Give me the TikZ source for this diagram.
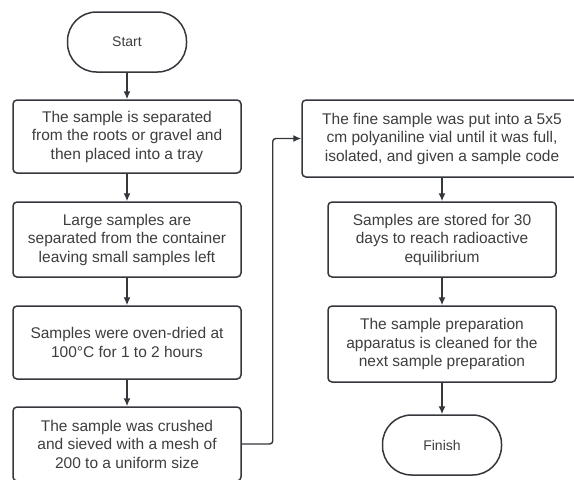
\documentclass[tikz,border=0pt]{standalone}
\usepackage{fontspec}
\setmainfont{Liberation Sans}
\usetikzlibrary{arrows.meta}
\definecolor{boxline}{RGB}{52,55,60}
\definecolor{boxtext}{RGB}{62,62,62}

\begin{document}
\begin{tikzpicture}[x=1pt, y=-1pt, >={Latex[length=8pt, width=7pt]},
    proc/.style={draw=boxline, line width=1.5pt, rounded corners=4pt, fill=white,
      text=boxtext, align=center, inner sep=0pt, minimum width=228pt,
      font=\fontsize{15.5}{18.5}\selectfont},
    term/.style={proc, rounded corners=29pt, minimum width=119pt, minimum height=60pt,
      font=\fontsize{14}{17}\selectfont},
    flow/.style={->, draw=boxline, line width=1.4pt, rounded corners=3pt}]
    \useasboundingbox (0,0) rectangle (574,480);
    \clip (0,0) rectangle (574,480);
    % left column
    \node[term] (start) at (127, 42) {Start};
    \node[proc, minimum height=73pt] (sep) at (127, 136.5)
      {The sample is separated\\from the roots or gravel and\\then placed into a tray};
    \node[proc, minimum height=75pt] (large) at (127, 239.5)
      {Large samples are\\separated from the container\\leaving small samples left};
    \node[proc, minimum height=73pt] (oven) at (127, 342.5)
      {Samples were oven-dried at\\100°C for 1 to 2 hours};
    \node[proc, minimum height=74pt] (crush) at (127, 444)
      {The sample was crushed\\and sieved with a mesh of\\200 to a uniform size};
    % right column
    \node[proc, minimum width=280pt, minimum height=77pt] (vial) at (442, 138.5)
      {The fine sample was put into a 5x5\\cm polyaniline vial until it was full,\\isolated, and given a sample code};
    \node[proc, minimum height=75pt] (store) at (442, 239.5)
      {Samples are stored for 30\\days to reach radioactive\\equilibrium};
    \node[proc, minimum height=76pt] (clean) at (442, 344)
      {The sample preparation\\apparatus is cleaned for the\\next sample preparation};
    \node[term] (finish) at (442, 445) {Finish};
    % connectors
    \draw[flow] (start) -- (sep);
    \draw[flow] (sep) -- (large);
    \draw[flow] (large) -- (oven);
    \draw[flow] (oven) -- (crush);
    \draw[flow] (crush.east) -- ++(31,0) |- (vial.west);
    \draw[flow] (vial) -- (store);
    \draw[flow] (store) -- (clean);
    \draw[flow] (clean) -- (finish);
  \end{tikzpicture}
\end{document}
